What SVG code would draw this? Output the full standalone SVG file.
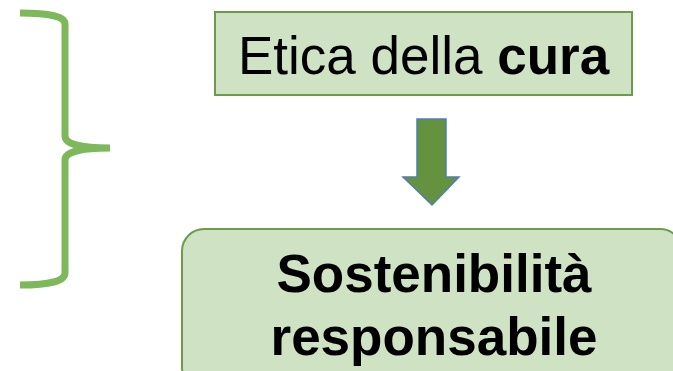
<svg xmlns="http://www.w3.org/2000/svg" width="673" height="371" viewBox="0 0 673 371">
<style>
.box{fill:#cfe3c4;stroke:#6e9b4a;stroke-width:2}
.t{font-family:"Liberation Sans",Arial,sans-serif;fill:#000;text-anchor:middle}
</style>
<rect width="673" height="371" fill="#fff"/>
<g id="brace">
<path d="M20,13 Q65,13 65,24 L65,136 Q65,148 110,148 Q65,148 65,160 L65,273 Q65,285 20,285" fill="none" stroke="#7db85a" stroke-width="7"/>
</g>
<g id="node-etica">
<rect class="box" x="215" y="12" width="417" height="83"/>
<text class="t" x="423.5" y="74" font-size="53">Etica della <tspan font-weight="bold">cura</tspan></text>
</g>
<g id="connectors">
<path d="M417,119 L446,119 L446,177 L459,177 L432,205 L403,177 L417,177 Z" fill="#65923f" stroke="#4e7fb3" stroke-width="1.5"/>
</g>
<g id="node-sostenibilita">
<rect class="box" x="182" y="229" width="500" height="160" rx="22"/>
<text class="t" x="434" y="292" font-size="53" font-weight="bold">Sostenibilità</text>
<text class="t" x="434" y="355" font-size="53" font-weight="bold">responsabile</text>
</g>
</svg>
